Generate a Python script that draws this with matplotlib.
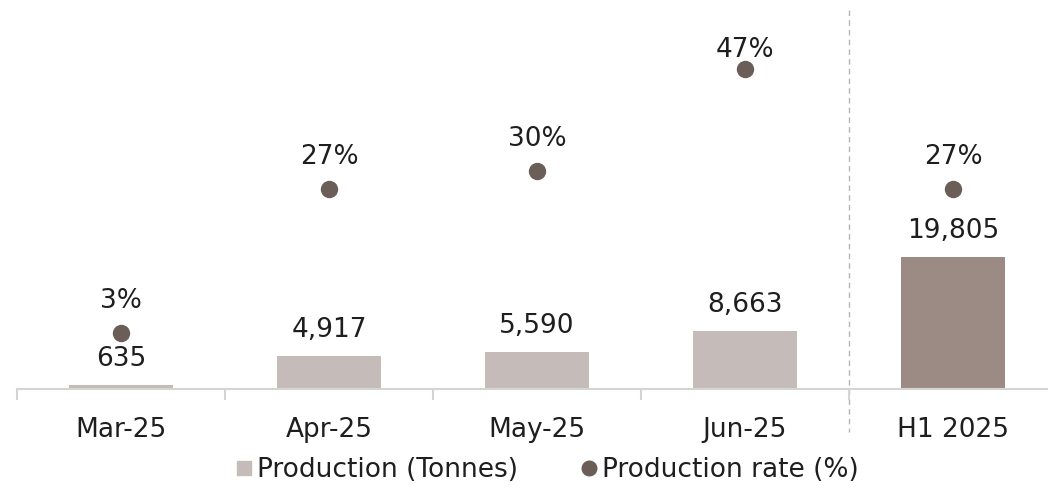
import matplotlib.pyplot as plt
from matplotlib.lines import Line2D
from matplotlib.transforms import blended_transform_factory

# data
categories = ["Mar-25", "Apr-25", "May-25", "Jun-25", "H1 2025"]
production = [635, 4917, 5590, 8663, 19805]
rate = [3, 27, 30, 47, 27]

bar_colors = ["#c5bcb9"] * 4 + ["#9c8b84"]
dot_color = "#6b5e59"
text_color = "#1e1e1e"
axis_color = "#d4d4d4"
fs = 19

plt.rcParams['font.family'] = ['DejaVu Sans']

fig = plt.figure(figsize=(10.48, 4.91), dpi=100)
ax = fig.add_axes([17 / 1048, 102 / 491, 1031 / 1048, 389 / 491])
ax2 = ax.twinx()

x = list(range(len(categories)))
ax.bar(x, production, width=0.5, color=bar_colors, zorder=2)
ax.set_xlim(-0.5, 4.457)
ax.set_ylim(0, 58400)
ax2.set_ylim(-6.3, 58.5)

for xi, v in zip(x, production):
    ax.text(xi, v + 2850, f"{v:,}", ha="center", va="baseline",
            fontsize=fs, color=text_color)

# rate labels sit above the dots, kept inside the plot area at the top
ax2.plot(x, rate, "o", color=dot_color, markersize=11.5, zorder=3)
for xi, r in zip(x, rate):
    ax2.text(xi, min(r + 4.2, 49), f"{r}%", ha="center", va="baseline",
             fontsize=fs, color=text_color)

# axes styling
for a in (ax, ax2):
    for s in ("top", "right", "left"):
        a.spines[s].set_visible(False)
    a.set_yticks([])
ax2.spines["bottom"].set_visible(False)
ax.spines["bottom"].set_color(axis_color)
ax.spines["bottom"].set_linewidth(1.5)

ax.set_xticks(x)
ax.set_xticklabels(categories, fontsize=fs, color=text_color)
ax.tick_params(axis="x", length=0, pad=20)
ax.set_xticks([-0.5, 0.5, 1.5, 2.5, 3.5], minor=True)
ax.tick_params(axis="x", which="minor", length=8, width=1.5, color=axis_color)

# separator between monthly and half-year figures
trans = blended_transform_factory(ax.transData, ax.transAxes)
ax.plot([3.5, 3.5], [0.975, -0.11], transform=trans, color="#b5b5b5",
        linestyle=(0, (4, 3)), linewidth=1, clip_on=False, zorder=1)

handles = [
    Line2D([], [], marker="s", linestyle="none", color=bar_colors[0], markersize=10.5),
    Line2D([], [], marker="o", linestyle="none", color=dot_color, markersize=10.5),
]
fig.legend(handles, ["Production (Tonnes)", "Production rate (%)"],
           loc="center", bbox_to_anchor=(0.521, 0.043), ncol=2, frameon=False,
           fontsize=fs, handletextpad=0.1, columnspacing=2.3,
           labelcolor=text_color, handlelength=0.8)

fig.savefig("out.png", dpi=100)
